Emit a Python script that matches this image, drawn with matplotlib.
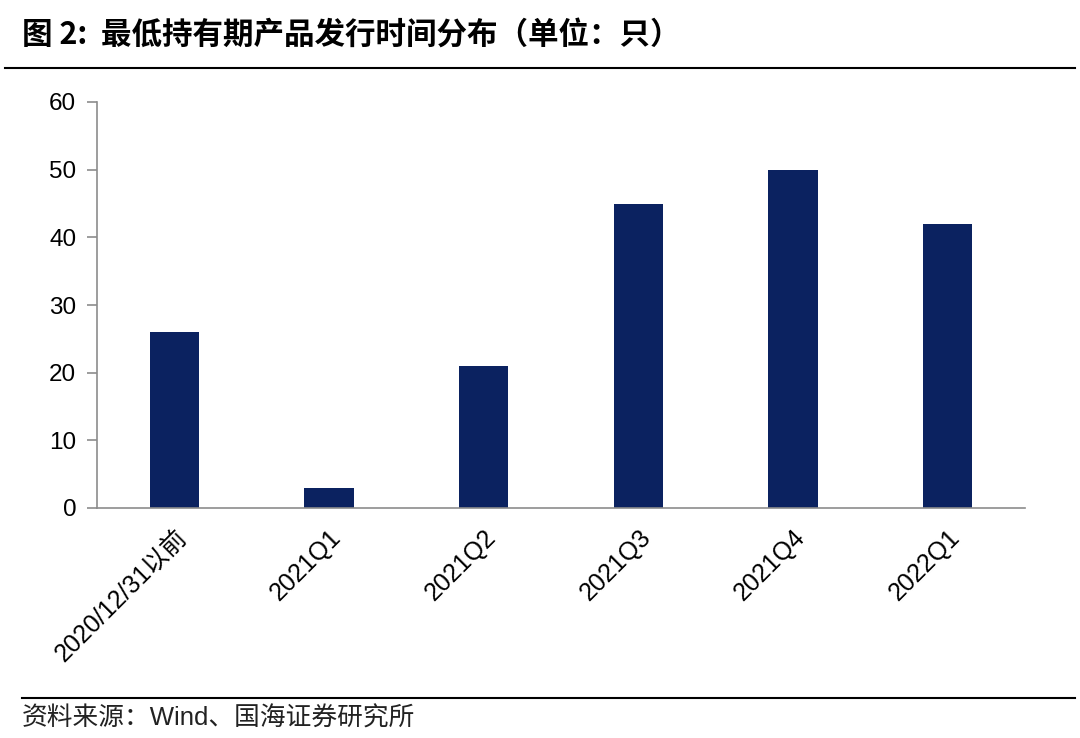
import matplotlib
matplotlib.use('Agg')
import matplotlib.pyplot as plt
from matplotlib.lines import Line2D

plt.rcParams['font.family'] = ['Liberation Sans', 'Noto Sans CJK SC']

# 数据
categories = ['2020/12/31以前', '2021Q1', '2021Q2', '2021Q3', '2021Q4', '2022Q1']
counts = [26, 3, 21, 45, 50, 42]
title = '图 2:  最低持有期产品发行时间分布（单位：只）'
source = '资料来源：Wind、国海证券研究所'

fig = plt.figure(figsize=(10.8, 7.38), dpi=100)
ax = fig.add_axes([97 / 1080, 1 - 508 / 738, 928 / 1080, 406 / 738])

ax.bar(range(len(categories)), counts, width=0.32, color='#0b2260')
ax.set_xlim(-0.5, len(categories) - 0.5)
ax.set_ylim(0, 60)
ax.set_yticks(range(0, 61, 10))
ax.set_xticks(range(len(categories)))
ax.set_xticklabels(categories, rotation=45, ha='right', rotation_mode='anchor',
                   family=['Liberation Sans', 'Noto Sans CJK SC'])

for s in ['top', 'right']:
    ax.spines[s].set_visible(False)
for s in ['left', 'bottom']:
    ax.spines[s].set_color('#8c8c8c')
    ax.spines[s].set_linewidth(1.2)
ax.tick_params(axis='y', direction='out', length=7, width=1.2, color='#8c8c8c',
               labelsize=17.5, pad=8)
ax.tick_params(axis='x', length=0, labelsize=18, pad=12)

# 标题和分隔线
fig.text(22 / 1080, 1 - 35 / 738, title, fontsize=22, fontweight='bold',
         family=['Noto Sans CJK SC'], va='center', ha='left')
fig.add_artist(Line2D([0.005, 0.995], [1 - 68 / 738] * 2, color='black', lw=1.5,
                      transform=fig.transFigure))
fig.add_artist(Line2D([0.02, 0.995], [1 - 698 / 738] * 2, color='black', lw=1.5,
                      transform=fig.transFigure))
fig.text(22 / 1080, 1 - 718 / 738, source, fontsize=18.5, va='center', ha='left',
         family=['Liberation Sans', 'Noto Sans CJK SC'], color='#222222')

fig.savefig('out.png', dpi=100)
